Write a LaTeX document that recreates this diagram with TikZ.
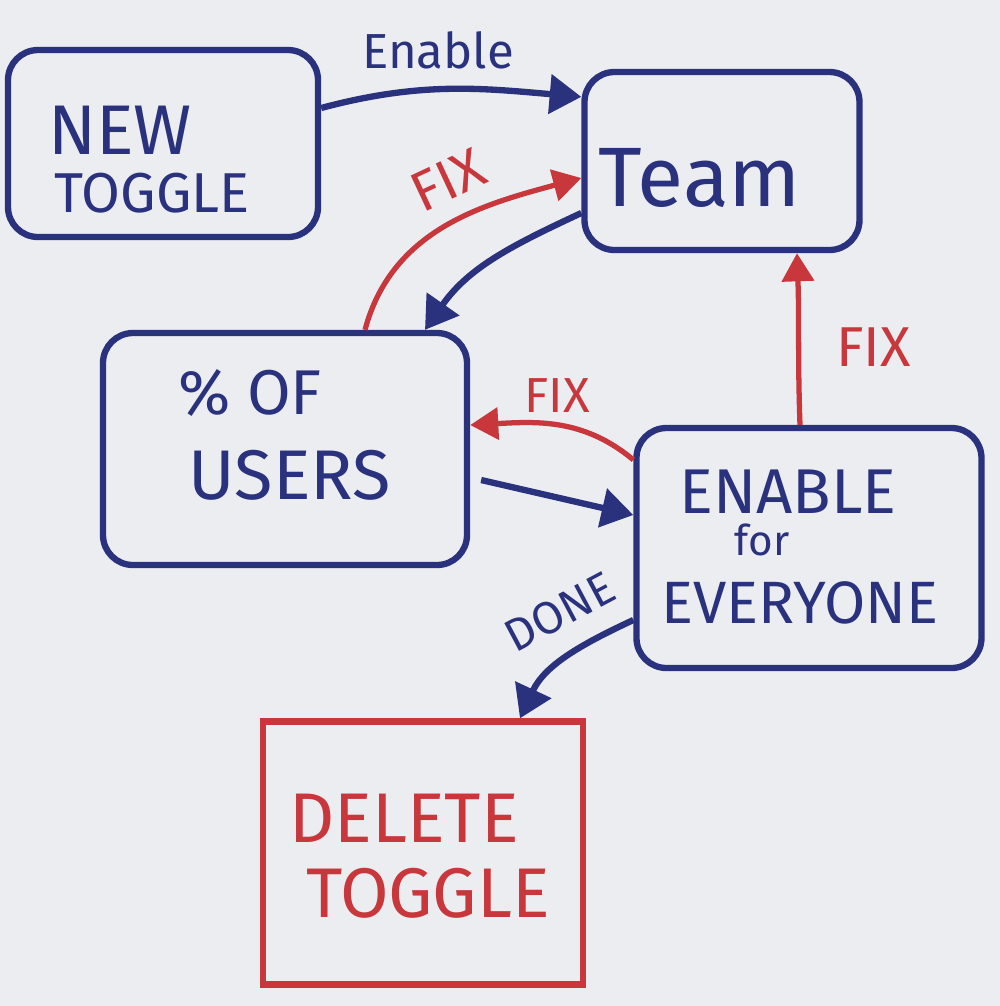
\documentclass[tikz,border=0pt]{standalone}
\usepackage{fontspec}
\setmainfont{Fira Sans}
\usetikzlibrary{arrows.meta}
\definecolor{ink}{RGB}{42,50,125}
\definecolor{redink}{RGB}{200,55,60}
\definecolor{board}{RGB}{236,237,241}
\newcommand{\fs}[1]{\fontsize{#1}{#1}\selectfont}
\begin{document}
\begin{tikzpicture}[
  box/.style={draw=ink, line width=1.8pt, rounded corners=0.3cm, inner sep=0pt},
  redbox/.style={draw=redink, line width=1.8pt, inner sep=0pt},
  bt/.style={text=ink, inner sep=0pt},
  rt/.style={text=redink, inner sep=0pt},
  bl/.style={draw=ink, line width=1.8pt, -{Triangle[width=11pt,length=9pt]}},
  rd/.style={draw=redink, line width=1.5pt, -{Triangle[width=9pt,length=8pt]}}]
\fill[board] (0,0) rectangle (10,-10.06);
\useasboundingbox (0,0) rectangle (10,-10.06);

% boxes
\node[box, minimum width=3.10cm, minimum height=1.87cm] (nt) at (1.63,-1.435) {};
\node[box, minimum width=2.75cm, minimum height=1.78cm] (team) at (7.22,-1.61) {};
\node[box, minimum width=3.64cm, minimum height=2.32cm] (users) at (2.85,-4.49) {};
\node[box, minimum width=3.45cm, minimum height=2.40cm] (enable) at (8.09,-5.48) {};
\node[redbox, minimum width=3.20cm, minimum height=2.63cm] (delete) at (4.23,-8.53) {};

% texts
\node[bt, font=\fs{20}] (ntA) at (1.20,-1.30) {NEW};
\node[bt, font=\fs{16}] (ntB) at (1.52,-1.93) {TOGGLE};
\node[bt, font=\fs{24}] (teamT) at (7.00,-1.78) {Team};
\node[bt, font=\fs{18}] (usA) at (2.50,-3.93) {\% OF};
\node[bt, font=\fs{20}] (usB) at (2.90,-4.75) {USERS};
\node[bt, font=\fs{18}] (enA) at (7.88,-4.92) {ENABLE};
\node[bt, font=\fs{12}] (enB) at (7.62,-5.40) {for};
\node[bt, font=\fs{17}] (enC) at (8.00,-6.03) {EVERYONE};
\node[rt, font=\fs{20}] (dlA) at (4.04,-8.18) {DELETE};
\node[rt, font=\fs{20}] (dlB) at (4.28,-8.93) {TOGGLE};

% connectors
\draw[bl] ([yshift=0.355cm]nt.east) to[out=15,in=175]
  node[bt, font=\fs{14}, above=5pt, pos=0.45] (lEnable) {Enable}
  ([yshift=-0.28cm]team.north west);
\draw[rd] ([xshift=0.80cm]users.north) to[out=75,in=195]
  ([yshift=-0.17cm]team.west);
\node[rt, font=\fs{16}, rotate=25] (lFix1) at (4.48,-1.80) {FIX};
\draw[bl] ([yshift=-0.52cm]team.west) to[out=205,in=55]
  ([xshift=1.40cm]users.north);
\draw[rd] ([yshift=-0.35cm]enable.north west) to[out=140,in=3]
  node[rt, font=\fs{14}, above=3pt, pos=0.5] (lFix2) {FIX}
  ([yshift=0.24cm]users.east);
\draw[bl] ([shift={(0.11,-0.31)}]users.east) -- ([yshift=0.33cm]enable.west);
\draw[rd] ([xshift=-0.09cm]enable.north) to[out=92,in=-88]
  node[rt, font=\fs{16}, right=0.35cm, pos=0.45] (lFix3) {FIX}
  ([xshift=0.75cm]team.south);
\draw[bl] ([yshift=-0.72cm]enable.west) to[out=205,in=65]
  ([xshift=0.97cm]delete.north);
\node[bt, font=\fs{13}, rotate=28] (lDone) at (5.60,-6.12) {DONE};
\end{tikzpicture}
\end{document}
